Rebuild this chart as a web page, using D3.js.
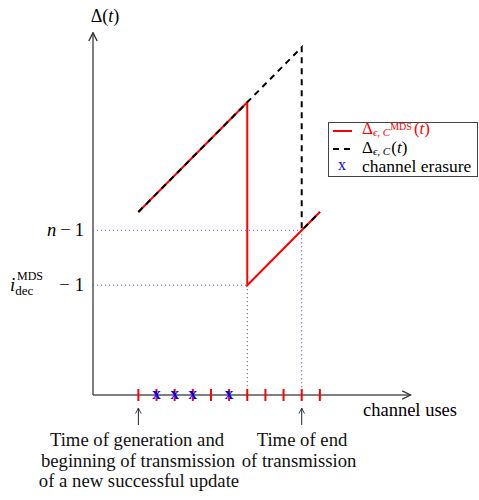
<!DOCTYPE html>
<meta charset="utf-8">
<script src="https://d3js.org/d3.v7.min.js"></script>
<style>
  body { margin: 0; background: #fff; }
</style>
<div id="chart"></div>
<script>
// channel uses (slot index), erasures, and the two age curves
var channelUses = [0, 1, 2, 3, 4, 5, 6, 7, 8, 9, 10];
var erasures = [1, 2, 3, 5];
var ageMDS = [[0, 10], [6, 16], [6, 6], [10, 10]];
var agePlain = [[0, 10], [9, 19], [9, 9], [10, 10]];
var levels = [
  {name: "n", v: 9, t: 9},
  {name: "idec", v: 6, t: 6}
];
var markedUses = [0, 9];

var serif = "'Liberation Serif'";
var width = 479, height = 500;
var svg = d3.select("#chart").append("svg")
  .attr("width", width).attr("height", height);

var x = d3.scaleLinear().domain([-2.5, 15]).range([93, 410.6]);
var y = d3.scaleLinear().domain([0, 20]).range([395, 29]);

function txt(sel, px, py, size) {
  return sel.append("text").attr("x", px).attr("y", py)
    .style("font-family", serif).attr("font-size", size);
}

var defs = svg.append("defs");
defs.append("marker").attr("id", "arr")
  .attr("viewBox", "0 0 10 10").attr("refX", 9).attr("refY", 5)
  .attr("markerWidth", 7).attr("markerHeight", 7).attr("orient", "auto")
  .append("path").attr("d", "M1,1 L9,5 L1,9").attr("fill", "none")
  .attr("stroke", "#333").attr("stroke-width", 1.3);

// dotted guide lines
levels.forEach(function(l) {
  svg.append("line")
    .attr("x1", x(-2.5)).attr("x2", x(l.t))
    .attr("y1", y(l.v)).attr("y2", y(l.v))
    .attr("stroke", "#5555ff").attr("stroke-width", 1)
    .attr("stroke-dasharray", "1,3");
  svg.append("line")
    .attr("x1", x(l.t)).attr("x2", x(l.t))
    .attr("y1", y(l.v)).attr("y2", y(0))
    .attr("stroke", "#33339f").attr("stroke-width", 1)
    .attr("stroke-dasharray", "1,3");
});

// axes
svg.append("line")
  .attr("x1", x(-2.5)).attr("x2", x(-2.5))
  .attr("y1", y(0)).attr("y2", y(19.8))
  .attr("stroke", "#555").attr("stroke-width", 1.5)
  .attr("marker-end", "url(#arr)");
svg.append("line")
  .attr("x1", x(-2.5)).attr("x2", x(15))
  .attr("y1", y(0)).attr("y2", y(0))
  .attr("stroke", "#555").attr("stroke-width", 1.5)
  .attr("marker-end", "url(#arr)");

// curves
var line = d3.line().x(function(d) { return x(d[0]); }).y(function(d) { return y(d[1]); });
svg.append("path").datum(ageMDS).attr("d", line)
  .attr("fill", "none").attr("stroke", "red").attr("stroke-width", 2);
svg.append("path").datum(agePlain).attr("d", line)
  .attr("fill", "none").attr("stroke", "black").attr("stroke-width", 2)
  .attr("stroke-dasharray", "6,5");

// channel use ticks
svg.selectAll(".tk").data(channelUses).enter().append("line")
  .attr("x1", function(d) { return x(d); }).attr("x2", function(d) { return x(d); })
  .attr("y1", y(0) - 6).attr("y2", y(0) + 6)
  .attr("stroke", "red").attr("stroke-width", 2);
svg.selectAll(".er").data(erasures).enter().append("text")
  .attr("x", function(d) { return x(d); }).attr("y", y(0) + 4)
  .style("font-family", serif)
  .attr("text-anchor", "middle").attr("font-size", 17).attr("font-weight", "bold")
  .attr("fill", "blue").text("x");

// arrows below axis
markedUses.forEach(function(t) {
  svg.append("line")
    .attr("x1", x(t)).attr("x2", x(t))
    .attr("y1", y(0) + 30).attr("y2", y(0) + 13)
    .attr("stroke", "#222").attr("stroke-width", 1)
    .attr("marker-end", "url(#arr)");
});

// axis labels
var dl = txt(svg, 105, 22, 18).attr("text-anchor", "middle");
dl.append("tspan").text("Δ(");
dl.append("tspan").attr("font-style", "italic").text("t");
dl.append("tspan").text(")");
txt(svg, 410, 416, 18.5).attr("text-anchor", "middle").text("channel uses");

// level labels
var nl = txt(svg, 84, y(9) + 6, 18.5).attr("text-anchor", "end");
nl.append("tspan").attr("font-style", "italic").text("n");
nl.append("tspan").attr("dx", 4).text("−");
nl.append("tspan").attr("dx", 4).text("1");
var il = txt(svg, 10, y(6) + 6, 18.5);
il.append("tspan").attr("font-style", "italic").text("i");
il.append("tspan").attr("font-size", 13).attr("dy", 4).text("dec");
txt(svg, 17, y(6) - 5, 12).text("MDS");
var ml = txt(svg, 84, y(6) + 6, 18.5).attr("text-anchor", "end");
ml.append("tspan").text("−");
ml.append("tspan").attr("dx", 5).text("1");

// annotations
var ann = [
  [137, 446, "Time of generation and"],
  [138, 466.5, "beginning of transmission"],
  [139, 487, "of a new successful update"],
  [302, 446, "Time of end"],
  [299, 466.5, "of transmission"]
];
svg.selectAll(".ann").data(ann).enter().append("text")
  .attr("x", function(d) { return d[0]; }).attr("y", function(d) { return d[1]; })
  .style("font-family", serif)
  .attr("text-anchor", "middle").attr("font-size", 18.7).attr("fill", "#111")
  .text(function(d) { return d[2]; });

// legend
var lg = svg.append("g");
lg.append("rect").attr("x", 328.5).attr("y", 122.5).attr("width", 149).attr("height", 54)
  .attr("fill", "white").attr("stroke", "#444").attr("stroke-width", 1);
lg.append("line").attr("x1", 333).attr("x2", 352).attr("y1", 131).attr("y2", 131)
  .attr("stroke", "red").attr("stroke-width", 2);
lg.append("line").attr("x1", 333).attr("x2", 352).attr("y1", 149).attr("y2", 149)
  .attr("stroke", "black").attr("stroke-width", 2).attr("stroke-dasharray", "6,5");
txt(lg, 342, 170, 16).attr("text-anchor", "middle").attr("fill", "blue").text("x");

var t1 = txt(lg, 362, 134, 17).attr("fill", "red");
t1.append("tspan").text("Δ");
t1.append("tspan").attr("font-size", 11).attr("dy", 2).attr("font-style", "italic").text("ϵ, C");
t1.append("tspan").attr("font-size", 10).attr("dy", -6).text("MDS");
t1.append("tspan").attr("dx", 2).attr("dy", 4).text("(");
t1.append("tspan").attr("font-style", "italic").text("t");
t1.append("tspan").text(")");

var t2 = txt(lg, 362, 153, 17).attr("fill", "black");
t2.append("tspan").text("Δ");
t2.append("tspan").attr("font-size", 11).attr("dy", 2).attr("font-style", "italic").text("ϵ, C");
t2.append("tspan").attr("dx", 1).attr("dy", -2).text("(");
t2.append("tspan").attr("font-style", "italic").text("t");
t2.append("tspan").text(")");

txt(lg, 362, 172, 17.5).text("channel erasure");
</script>
